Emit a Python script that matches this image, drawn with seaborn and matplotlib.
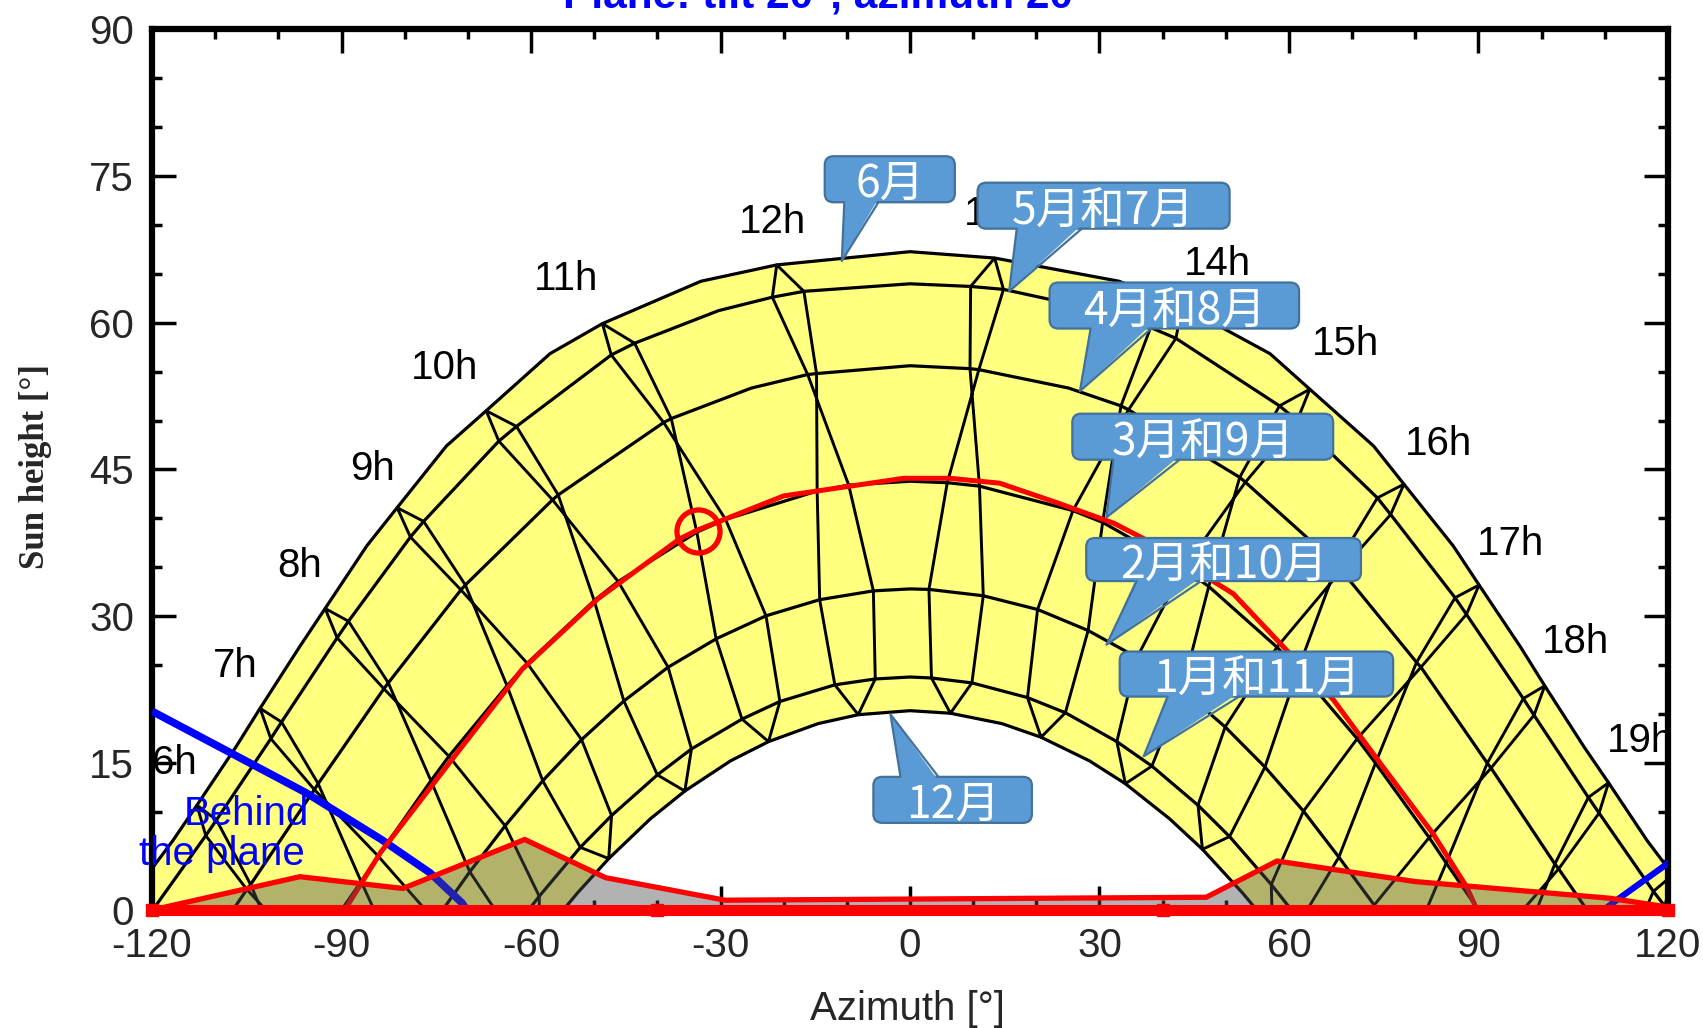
import numpy as np
import pandas as pd
import matplotlib
matplotlib.use("Agg")
import matplotlib.pyplot as plt
from matplotlib.patches import FancyBboxPatch, Polygon
from matplotlib.ticker import MultipleLocator
import seaborn as sns

# Sun paths: one curve per month pair (azimuth [deg], sun height [deg])
jun_az = [-125.1, -123.2, -116.75, -112.9, -106.7, -102.9, -96.7, -92.6, -86.0, -81.2, -73.4, -67.1, -57.0,
          -48.7, -33.1, -21.1, 0, 13.4, 33.1, 43.1, 57.0, 63.3, 73.4, 78.2, 86.0, 90.1, 96.7, 100.5, 106.7,
          110.6, 116.75, 120.8, 125.1]
jun_alt = [0, 1.5, 7.05, 10.7, 16.68, 20.6, 26.83, 30.8, 37.2, 41.1, 47.4, 51.0, 56.83, 59.9, 64.23, 65.9,
           67.25, 66.6, 64.23, 61.7, 56.83, 53.2, 47.4, 43.5, 37.2, 33.2, 26.83, 22.9, 16.68, 13.0, 7.05, 3.6, 0]

mj_az = [-119.9, -111.5, -109.8, -101.2, -99.5, -90.7, -88.9, -79.1, -77.0, -65.1, -62.3, -47.3, -43.6, -30.3,
         -21.8, -16.8, 0, 9.6, 14.8, 30.3, 38.1, 42.1, 58.5, 61.3, 74.0, 76.1, 86.3, 88.1, 97.1, 98.8, 107.4,
         109.1, 117.7, 119.5, 119.9]
mj_alt = [0, 7.6, 9.2, 17.5, 19.2, 27.8, 29.5, 38.1, 39.7, 47.9, 49.4, 56.7, 57.9, 61.23, 62.6, 63.2, 63.97,
          63.7, 63.4, 61.23, 59.5, 58.4, 51.5, 50.0, 42.1, 40.4, 31.9, 30.2, 21.6, 19.9, 11.5, 9.9, 1.9, 0.4, 0]

aa_az = [-107.2, -105.0, -104.4, -94.3, -93.7, -83.3, -82.6, -71.1, -70.4, -56.6, -55.7, -39.0, -37.8, -25.1,
         -16.2, -14.8, 0, 9.5, 10.9, 25.1, 33.4, 34.6, 52.2, 53.1, 67.6, 68.3, 80.2, 80.9, 91.4, 92.0, 102.1,
         102.7, 107.2]
aa_alt = [0, 2.1, 2.6, 12.3, 12.9, 22.6, 23.2, 32.7, 33.2, 41.9, 42.4, 49.8, 50.2, 53.32, 54.7, 54.8, 55.6,
          55.3, 55.2, 53.32, 51.5, 51.1, 44.2, 43.7, 35.3, 34.7, 25.3, 24.8, 15.0, 14.5, 4.7, 4.2, 0]

ms_az = [-90, -86.9, -84.2, -75.85, -73.0, -63.8, -60.6, -50.0, -46.2, -33.75, -29.2, -14.7, -9.7, 0, 5.9,
         11.0, 25.8, 30.5, 43.3, 47.3, 58.1, 61.45, 70.8, 73.7, 82.2, 84.9, 90]
ms_alt = [0, 2.9, 5.5, 13.2, 15.7, 22.9, 25.2, 31.6, 33.55, 38.6, 39.9, 42.8, 43.4, 43.8, 43.65, 43.3, 40.8,
          39.6, 34.9, 33.05, 26.85, 24.6, 17.5, 15.0, 7.4, 4.8, 0]

fo_az = [-74.0, -69.7, -64.1, -58.15, -52.0, -45.3, -38.3, -30.7, -22.8, -14.3, -5.8, 0, 3.0, 11.6, 20.2,
         28.2, 35.95, 43.1, 49.9, 56.2, 62.3, 67.9, 73.5, 74.0]
fo_alt = [0, 3.9, 8.6, 13.2, 17.4, 21.35, 24.8, 27.7, 30.05, 31.7, 32.6, 32.8, 32.75, 32.1, 30.7, 28.55,
          25.8, 22.5, 18.7, 14.6, 10.1, 5.4, 0.5, 0]

jn_az = [-60.4, -58.7, -52.2, -47.25, -40.0, -34.6, -26.6, -20.6, -11.9, -5.5, 0, 3.4, 9.8, 18.6, 24.6,
         32.75, 38.3, 45.6, 50.6, 57.2, 60.4]
jn_alt = [0, 1.4, 6.4, 9.65, 13.8, 16.45, 19.5, 21.3, 23.0, 23.6, 23.8, 23.7, 23.2, 21.7, 20.15, 17.2, 14.7,
          10.7, 7.5, 2.6, 0]

dec_az = [-54.9, -52.65, -47.7, -41.1, -35.65, -28.4, -22.4, -14.55, -8.2, 0, 6.4, 14.55, 20.75, 28.4, 34.1,
          41.1, 46.3, 52.65, 54.9]
dec_alt = [0, 1.74, 5.25, 9.32, 12.15, 15.24, 17.2, 19.04, 19.95, 20.36, 20.1, 19.04, 17.65, 15.24, 12.9,
           9.32, 6.2, 1.74, 0]

# Hour lines (legal time), each a loop Dec -> Jun -> Dec
h06_az = [-97.8, -104.4, -109.8, -112.9, -111.5, -105.0, -95.1]
h06_alt = [-7.4, 2.6, 9.2, 10.7, 7.6, 2.1, -4.8]
h07_az = [-80.5, -86.9, -93.7, -99.5, -102.9, -101.2, -94.3, -84.2, -75.2]
h07_alt = [-6.1, 2.9, 12.9, 19.2, 20.6, 17.5, 12.3, 5.5, -1.1]
h08_az = [-63.2, -69.7, -75.85, -82.6, -88.9, -92.6, -90.7, -83.3, -73.0, -64.1, -58.7, -58.7]
h08_alt = [-2.4, 3.9, 13.2, 23.2, 29.5, 30.8, 27.8, 22.6, 15.7, 8.6, 1.4, -3.1]
h09_az = [-47.7, -52.2, -58.15, -63.8, -70.4, -77.0, -81.2, -79.1, -71.1, -60.6, -52.0, -47.25, -47.7]
h09_alt = [5.25, 6.4, 13.2, 22.9, 33.2, 39.7, 41.1, 38.1, 32.7, 25.2, 17.4, 9.65, 5.25]
h10_az = [-35.65, -40.0, -45.3, -50.0, -55.7, -62.3, -67.1, -65.1, -56.6, -46.2, -38.3, -34.6, -35.65]
h10_alt = [12.15, 13.8, 21.35, 31.6, 42.4, 49.4, 51.0, 47.9, 41.9, 33.55, 24.8, 16.45, 12.15]
h11_az = [-22.4, -26.6, -30.7, -33.75, -37.8, -43.6, -48.7, -47.3, -39.0, -29.2, -22.8, -20.6, -22.4]
h11_alt = [17.2, 19.5, 27.7, 38.6, 50.2, 57.9, 59.9, 56.7, 49.8, 39.9, 30.05, 21.3, 17.2]
h12_az = [-8.2, -11.9, -14.3, -14.7, -14.8, -16.8, -21.1, -21.8, -16.2, -9.7, -5.8, -5.5, -8.2]
h12_alt = [19.95, 23.0, 31.7, 42.8, 54.8, 63.2, 65.9, 62.6, 54.7, 43.4, 32.6, 23.6, 19.95]
h13_az = [6.4, 3.4, 3.0, 5.9, 10.9, 14.8, 13.4, 9.6, 9.5, 11.0, 11.6, 9.8, 6.4]
h13_alt = [20.1, 23.7, 32.75, 43.65, 55.2, 63.4, 66.6, 63.7, 55.3, 43.3, 32.1, 23.2, 20.1]
h14_az = [20.75, 18.6, 20.2, 25.8, 34.6, 42.1, 43.1, 38.1, 33.4, 30.5, 28.2, 24.6, 20.75]
h14_alt = [17.65, 21.7, 30.7, 40.8, 51.1, 58.4, 61.7, 59.5, 51.5, 39.6, 28.55, 20.15, 17.65]
h15_az = [34.1, 32.75, 35.95, 43.3, 53.1, 61.3, 63.3, 58.5, 52.2, 47.3, 43.1, 38.3, 34.1]
h15_alt = [12.9, 17.2, 25.8, 34.9, 43.7, 50.0, 53.2, 51.5, 44.2, 33.05, 22.5, 14.7, 12.9]
h16_az = [46.3, 45.6, 49.9, 58.1, 68.3, 76.1, 78.2, 74.0, 67.6, 61.45, 56.2, 50.6, 46.3]
h16_alt = [6.2, 10.7, 18.7, 26.85, 34.7, 40.4, 43.5, 42.1, 35.3, 24.6, 14.6, 7.5, 6.2]
h17_az = [57.4, 57.2, 62.3, 70.8, 80.9, 88.1, 90.1, 86.3, 80.2, 73.7, 67.9, 61.8]
h17_alt = [-2.0, 2.6, 10.1, 17.5, 24.8, 30.2, 33.2, 31.9, 25.3, 15.0, 5.4, -1.15]
h18_az = [67.9, 73.5, 82.2, 92.0, 98.8, 100.5, 97.1, 91.4, 84.9, 78.8]
h18_alt = [-6.6, 0.5, 7.4, 14.5, 19.9, 22.9, 21.6, 15.0, 4.8, -4.5]
h19_az = [93.1, 102.7, 109.1, 110.6, 107.4, 102.1, 95.8]
h19_alt = [-2.9, 4.2, 9.9, 13.0, 11.5, 4.7, -5.5]
h20_az = [113.6, 119.5, 120.8, 117.7, 113.0]
h20_alt = [-5.7, 0.4, 3.6, 1.9, -5.1]

hour_names = ['6h', '7h', '8h', '9h', '10h', '11h', '12h', '13h', '14h', '15h', '16h', '17h', '18h', '19h']
hour_lab_az = [-116.4, -106.9, -96.65, -85.1, -73.7, -54.4, -21.7, 13.8, 48.6, 69.0, 83.6, 95.1, 105.4, 115.6]
hour_lab_alt = [15.0, 24.9, 35.1, 45.1, 55.4, 64.5, 70.3, 71.1, 66.0, 57.8, 47.6, 37.4, 27.4, 17.3]

# today's path and sun position
red_az = [-89.5, -83.8, -72.6, -61.4, -49.4, -36.5, -33.7, -20, -1, 6.3, 14.2, 23.3, 32.3, 38.0, 51.2,
          59.1, 67.0, 74.9, 82.8, 88.1, 89.8]
red_alt = [0, 5.9, 15.3, 24.6, 31.8, 37.9, 38.8, 42.3, 44.1, 44.1, 43.6, 41.6, 39.5, 37.6, 32.3, 26.9,
           21.5, 14.6, 7.8, 2.4, 0]
sun_az = [-33.6]
sun_alt = [38.7]

# far horizon profile
hz_az = [-120, -96.6, -80.3, -61.0, -48.2, -29.3, 46.9, 58.1, 80.0, 110.8, 120]
hz_alt = [0, 3.4, 2.2, 7.2, 3.3, 1.0, 1.3, 5.0, 2.9, 1.2, 0.3]
hz_mark_az = [-120, -40, 40, 120]
hz_mark_alt = [0, 0, 0, 0]

# behind the plane limit
bp_left_az = [-120, -107.7, -95.7, -83.7, -76.0, -70.9, -70.2]
bp_left_alt = [20.3, 16.1, 12.0, 7.2, 3.8, 0.7, 0]
bp_right_az = [109.8, 112.3, 120.5]
bp_right_alt = [0, 1.2, 5.0]

callout_text = ['6月', '5月和7月', '4月和8月', '3月和9月', '2月和10月', '1月和11月', '12月']

sns.set_style("ticks")
plt.rcParams['font.family'] = ['Liberation Sans', 'DejaVu Sans']
plt.rcParams['axes.unicode_minus'] = False

fig = plt.figure(figsize=(17.03, 10.28), dpi=100)
ax = fig.add_axes([0.0893, 0.1148, 0.8901, 0.857])

# yellow band between the June and December paths
ax.fill(np.concatenate([jun_az, dec_az[::-1]]), np.concatenate([jun_alt, dec_alt[::-1]]),
        color='#ffff80', lw=0, zorder=1)

month_df = pd.concat([
    pd.DataFrame({'az': a, 'alt': b, 'curve': n})
    for n, a, b in [('jun', jun_az, jun_alt), ('mj', mj_az, mj_alt), ('aa', aa_az, aa_alt),
                    ('ms', ms_az, ms_alt), ('fo', fo_az, fo_alt), ('jn', jn_az, jn_alt),
                    ('dec', dec_az, dec_alt)]])
hour_df = pd.concat([
    pd.DataFrame({'az': a, 'alt': b, 'curve': n})
    for n, a, b in [(6, h06_az, h06_alt), (7, h07_az, h07_alt), (8, h08_az, h08_alt), (9, h09_az, h09_alt),
                    (10, h10_az, h10_alt), (11, h11_az, h11_alt), (12, h12_az, h12_alt),
                    (13, h13_az, h13_alt), (14, h14_az, h14_alt), (15, h15_az, h15_alt),
                    (16, h16_az, h16_alt), (17, h17_az, h17_alt), (18, h18_az, h18_alt),
                    (19, h19_az, h19_alt), (20, h20_az, h20_alt)]])

sns.lineplot(data=month_df, x='az', y='alt', units='curve', estimator=None, sort=False,
             color='black', lw=2.3, ax=ax, legend=False, zorder=2)
sns.lineplot(data=hour_df, x='az', y='alt', units='curve', estimator=None, sort=False,
             color='black', lw=2.1, ax=ax, legend=False, zorder=2)

for name, x, y in zip(hour_names, hour_lab_az, hour_lab_alt):
    ax.text(x, y, name, fontsize=29, ha='center', va='center', color='black', zorder=2.2, clip_on=True)

# behind the plane
ax.plot(bp_left_az, bp_left_alt, color='#0000ff', lw=5.5, zorder=2.6, solid_capstyle='butt')
ax.plot(bp_right_az, bp_right_alt, color='#0000ff', lw=4.5, zorder=2.6, solid_capstyle='butt')
ax.text(-105.1, 8.7, 'Behind', color='#0000ff', fontsize=29, ha='center', va='baseline', zorder=6)
ax.text(-108.9, 4.6, 'the plane', color='#0000ff', fontsize=29, ha='center', va='baseline', zorder=6)

# today's path
sns.lineplot(x=red_az, y=red_alt, sort=False, estimator=None, color='#ff0000', lw=3.6, ax=ax, zorder=3)
ax.plot(sun_az, sun_alt, 'o', ms=31, mfc='none', mec='#ff0000', mew=3.8, zorder=3.1)

# horizon
ax.fill_between(hz_az, 0, hz_alt, color='#4d4d4d', alpha=0.43, lw=0, zorder=4)
ax.plot(hz_az, hz_alt, color='#ff0000', lw=3.8, zorder=4.2, solid_joinstyle='miter')
ax.axhline(0, color='#ff0000', lw=8, zorder=4.1, clip_on=False)
ax.plot(hz_mark_az, hz_mark_alt, 's', color='#ff0000', ms=8, zorder=4.3, clip_on=False)

# month callouts
box_fc, box_ec = '#5b9bd5', '#41719c'
boxes = [(-13.5, 7.1, 72.3, 77.0, (-10.4, -5.0), (-10.8, 66.3)),
         (10.7, 50.6, 69.6, 74.3, (16.9, 27.2), (15.7, 63.2)),
         (22.1, 61.6, 59.4, 64.1, (28.6, 38.2), (26.9, 53.0)),
         (25.7, 67.0, 46.0, 50.7, (32.2, 42.7), (31.1, 40.1)),
         (27.9, 71.4, 33.6, 38.0, (35.9, 46.1), (31.1, 27.1)),
         (33.2, 76.5, 21.8, 26.4, (40.8, 52.1), (37.0, 15.7)),
         (-5.8, 19.3, 8.9, 13.6, (-1.5, 4.5), (-3.1, 20.0))]
for txt, (x0, x1, y0, y1, base, tip) in zip(callout_text, boxes):
    ax.add_patch(FancyBboxPatch((x0, y0), x1 - x0, y1 - y0,
                                boxstyle="round,pad=0,rounding_size=1.4", mutation_aspect=0.645,
                                fc=box_fc, ec=box_ec, lw=1.6, zorder=7))
    yb = y0 if tip[1] < y0 else y1
    inset = 0.4 if yb == y0 else -0.4
    ax.add_patch(Polygon([(base[0], yb + inset), tip, (base[1], yb + inset)], closed=True,
                         fc=box_fc, ec='none', zorder=7.5))
    ax.plot([base[0], tip[0], base[1]], [yb, tip[1], yb], color=box_ec, lw=1.6, zorder=7.6)
    ax.text((x0 + x1) / 2, (y0 + y1) / 2, txt, color='white', fontsize=32, ha='center',
            va='center_baseline', family=['Noto Sans CJK SC', 'DejaVu Sans'], zorder=8)

# axes
ax.set_xlim(-120, 120)
ax.set_ylim(0, 90)
ax.set_xlabel('')
ax.set_ylabel('')
ax.xaxis.set_major_locator(MultipleLocator(30))
ax.xaxis.set_minor_locator(MultipleLocator(10))
ax.yaxis.set_major_locator(MultipleLocator(15))
ax.yaxis.set_minor_locator(MultipleLocator(5))
ax.tick_params(which='both', direction='in', top=True, right=True, width=2.5, color='black')
ax.tick_params(which='major', length=17, labelsize=29)
ax.tick_params(which='minor', length=7)
ax.tick_params(axis='x', pad=12)
ax.tick_params(axis='y', pad=13)
for s in ax.spines.values():
    s.set_linewidth(4.5)
    s.set_color('black')

fig.text(0.4853, 1 - 7 / 1028, 'Plane: tilt 20°, azimuth 20°', ha='center', va='baseline',
         color='#0000ff', fontsize=30.5, fontweight='bold')
fig.text(0.0208, 0.5462, 'Sun height [°]', rotation=90, ha='center', va='center', fontsize=25,
         fontweight='bold', family=['Liberation Serif', 'DejaVu Serif'])
fig.text(0.5326, 1 - 1020 / 1028, 'Azimuth [°]', ha='center', va='baseline', fontsize=29)

fig.savefig('out.png', dpi=100)
plt.close()
